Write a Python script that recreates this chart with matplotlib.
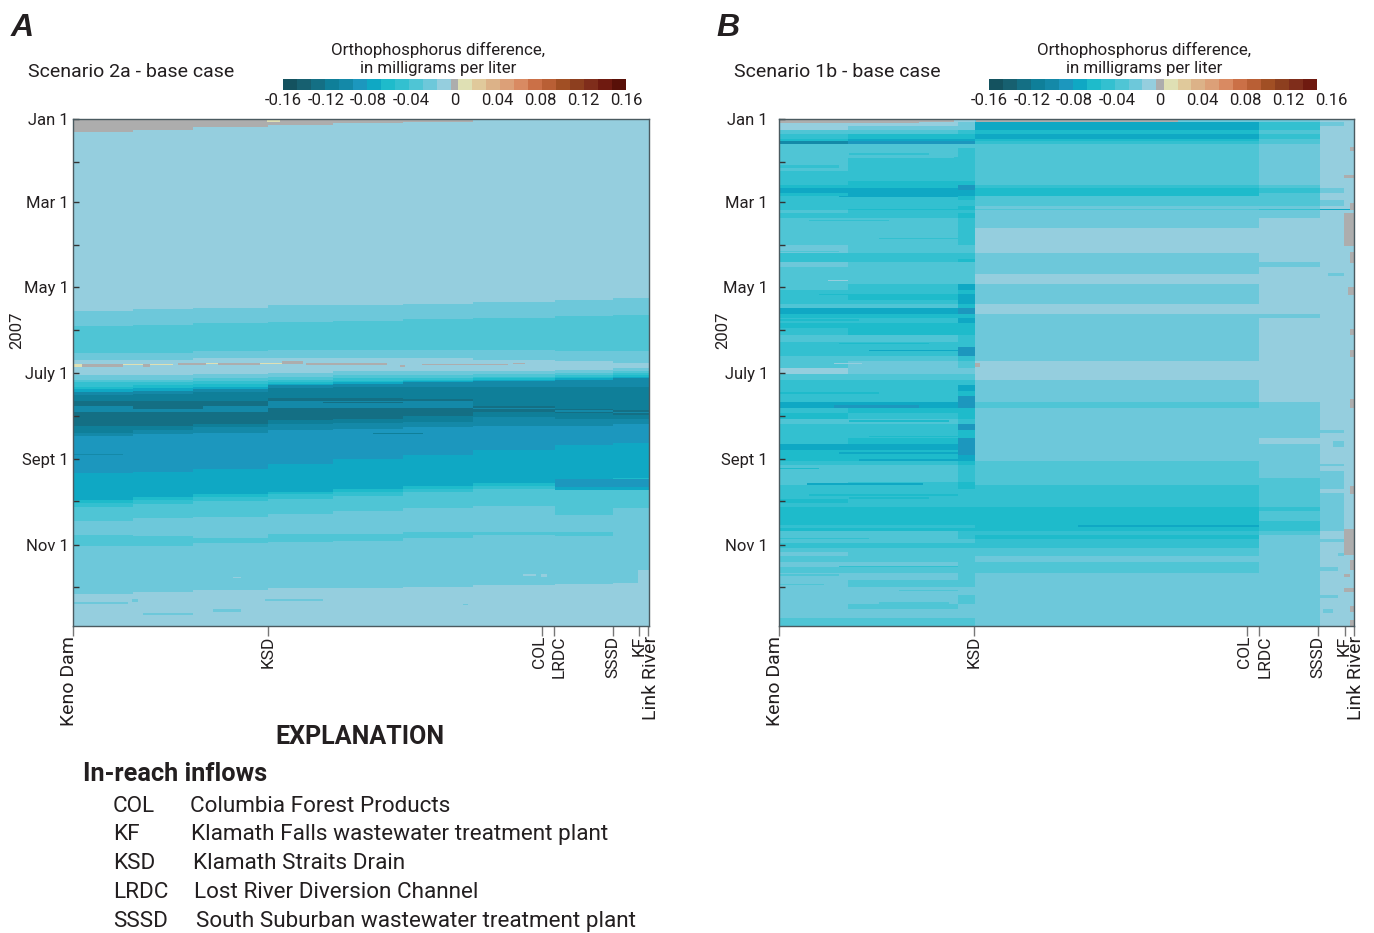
import matplotlib

matplotlib.use("Agg")
import matplotlib.pyplot as plt
import numpy as np
from matplotlib.colors import BoundaryNorm, ListedColormap

plt.rcParams["font.family"] = ["Roboto", "DejaVu Sans"]

# colour classes (mg/L), a is the palest blue, l the darkest
gr, ye = 0.0, 0.01
a, b, c, d, e, f, g, h, i, j, k, l = (-0.01, -0.023, -0.036, -0.049, -0.062, -0.075,
                                      -0.088, -0.101, -0.115, -0.128, -0.141, -0.154)

CB_COLORS = ["#14525f", "#176070", "#146f84", "#0f7f99", "#1489a8", "#1c97be", "#0fa8c4",
             "#1ebbcb", "#33c0d0", "#4fc5d5", "#6dc8da", "#95cede", "#adadad", "#dfe0b4",
             "#e0c99b", "#dcb288", "#dca078", "#d98a62", "#cb7047", "#b95f35", "#a14f24",
             "#8d3f1f", "#7f2d1b", "#6f1a10", "#581008"]
CB_BOUNDS = [-0.16, -0.1469, -0.1338, -0.1207, -0.1076, -0.0945, -0.0814, -0.0683, -0.0552,
             -0.0421, -0.029, -0.0164, -0.0033, 0.0033, 0.0164, 0.029, 0.0421, 0.0552,
             0.0683, 0.0814, 0.0945, 0.1076, 0.1207, 0.1338, 0.1469, 0.16]
CB_TICKS = [-0.16, -0.12, -0.08, -0.04, 0, 0.04, 0.08, 0.12, 0.16]
CB_LABELS = ["-0.16", "-0.12", "-0.08", "-0.04", "0", "0.04", "0.08", "0.12", "0.16"]

MONTH_DAYS = [0, 59, 120, 181, 243, 304]
MONTH_LABELS = ["Jan 1", "Mar 1", "May 1", "July 1", "Sept 1", "Nov 1"]
MINOR_DAYS = [31, 90, 151, 212, 273, 334]
N_DAYS = 362
N_SEG = 576

SITES = ["Keno Dam", "KSD", "COL", "LRDC", "SSSD", "KF", "Link River"]
SITE_POS = [0, 195.5, 469, 481, 540, 566.5, 575.5]

# panel A: band colours from top to bottom, and where each ends (day) in each river section
A_SECTIONS = [0, 60, 120, 195, 260, 330, 400, 482, 540, 576]
A_BAND_VALUES = [gr, a, b, c, b, a, b, c, d, e, f, h, i, j, h, j, i, h, g, f, e, d, c, b, c, b, a]
A_BAND_ENDS = [
    [9, 8, 6, 4, 3, 2, 1, 0.5, 0],
    [137, 136, 135, 133, 133, 132, 131, 129, 128],
    [148, 147, 146, 145, 144, 143, 142, 141, 140],
    [167, 167, 166, 165, 165, 165, 165, 166, 166],
    [172, 172, 171, 171, 171, 171, 172, 173, 174],
    [183, 183, 182, 181, 180, 180, 180, 179, 178],
    [186, 186, 185, 184, 183, 183, 182, 181, 180],
    [188, 188, 187, 186, 185, 185, 184, 183, 181],
    [191, 190, 189, 188, 187, 186, 185, 184, 183],
    [193, 192, 191, 189, 188, 187, 186, 185, 184],
    [195, 194, 193, 190, 189, 188, 187, 186, 185],
    [197, 196, 195, 192, 191, 191, 191, 191, 191],
    [201, 201, 201, 199, 199, 200, 205, 207, 208],
    [205, 205, 205, 201, 201, 201, 206, 208, 209],
    [209, 209, 209, 206, 206, 206, 207, 209, 210],
    [219, 219, 218, 215, 214, 212, 209, 210, 211],
    [224, 222, 220, 218, 217, 216, 213, 214, 214],
    [226, 225, 224, 222, 221, 220, 219, 219, 218],
    [253, 252, 250, 246, 243, 240, 236, 233, 231],
    [272, 270, 268, 266, 264, 262, 260, 258, 256],
    [274, 272, 270, 268, 266, 264, 262, 261, 261],
    [277, 275, 273, 271, 269, 266, 264, 263, 263],
    [287, 285, 284, 282, 280, 278, 276, 283, 278],
    [297, 298, 299, 296, 296, 295, 295, 295, 293],
    [305, 305, 303, 302, 301, 299, 297, 298, 293],
    [339, 338, 336, 335, 335, 334, 333, 332, 331],
    [362, 362, 362, 362, 362, 362, 362, 362, 362],
]
# panel A streaks: first day, last day, first segment, last segment, value
A_STREAKS = [
    (1, 2, 194, 207, ye), (175, 177, 0, 9, ye), (175, 177, 9, 50, gr), (175, 176, 50, 70, ye),
    (175, 177, 70, 77, gr), (175, 176, 77, 100, ye), (174, 176, 105, 133, gr),
    (174, 175, 133, 145, ye), (174, 176, 145, 187, gr), (174, 175, 187, 209, ye),
    (173, 175, 209, 230, gr), (174, 176, 233, 314, gr), (176, 177, 327, 332, gr),
    (175, 176, 349, 435, gr), (174, 175, 440, 452, gr),
    (205, 207, 60, 130, j), (214, 216, 20, 120, j), (218, 219, 0, 70, j),
    (212, 214, 195, 270, j), (206, 208, 300, 380, j), (202, 203, 250, 330, j),
    (224, 225, 300, 350, i), (239, 240, 0, 50, h), (260, 261, 482, 514, h),
    (257, 263, 482, 576, g), (263, 265, 482, 576, f),
    (270, 272, 460, 482, c), (322, 331, 565, 576, a),
    (345, 346, 0, 55, b), (343, 345, 59, 65, b), (353, 354, 70, 120, b), (350, 352, 140, 168, b),
    (343, 344, 192, 250, b), (346, 347, 390, 395, b), (327, 328, 160, 168, a),
    (325, 326, 450, 463, a), (325, 327, 468, 474, a),
]

# panel B: one row per run of days, values in each river section
B_SECTIONS = [0, 69, 179, 196, 481, 542, 566, 576]
B_ROW_ENDS = [2, 5, 8, 11, 14, 16, 18, 21, 28, 37, 41, 44, 47, 49, 51, 53, 55, 58, 62, 64, 65, 67,
              71, 78, 90, 96, 100, 102, 106, 111, 118, 122, 125, 129, 132, 135, 139, 142, 146,
              149, 154, 159, 163, 166, 169, 173, 178, 182, 186, 190, 194, 198, 202, 206, 210,
              214, 218, 222, 228, 232, 236, 240, 244, 247, 251, 256, 259, 261, 264, 267, 271,
              274, 277, 280, 287, 290, 292, 294, 297, 300, 303, 306, 309, 312, 316, 320, 324,
              329, 334, 340, 346, 350, 356, 362]
B_ROW_VALUES = [
    [a, a, a, b, b, a, a], [a, a, b, f, d, b, a], [a, b, b, f, d, a, a], [c, c, d, e, c, a, a],
    [d, e, e, f, d, a, a], [e, f, f, e, c, a, a], [h, g, g, d, c, a, a], [c, c, c, c, b, a, a],
    [c, c, d, c, b, a, a], [c, d, d, c, b, a, a], [d, d, d, c, b, a, a], [d, d, d, c, b, a, a],
    [d, e, e, c, b, a, a], [e, e, g, d, c, a, a], [f, f, g, e, d, b, a], [f, f, f, e, d, b, a],
    [e, f, f, e, c, a, a], [d, d, e, c, c, a, a], [d, d, d, c, c, b, a], [d, d, e, b, b, a, a],
    [d, e, e, c, d, f, f], [c, d, d, b, b, a, a], [d, d, e, b, b, a, a], [c, c, d, b, a, a, a],
    [c, c, d, a, a, a, a], [b, c, c, a, a, a, a], [d, d, d, b, a, a, a], [d, d, e, b, a, a, a],
    [b, c, c, b, b, a, a], [c, c, c, b, a, a, a], [c, c, c, a, a, a, a], [c, d, f, b, a, a, a],
    [d, d, e, b, a, a, a], [d, e, f, b, a, a, a], [d, d, f, b, a, a, a], [c, c, e, a, a, a, a],
    [f, f, g, a, a, a, a], [e, e, e, b, b, a, a], [d, d, f, b, a, a, a], [e, e, e, b, a, a, a],
    [d, e, e, b, a, a, a], [c, c, d, b, a, a, a], [d, d, d, b, a, a, a], [d, d, g, b, a, a, a],
    [d, d, g, b, a, a, a], [c, c, d, b, a, a, a], [c, b, c, a, a, a, a], [a, b, b, a, a, a, a],
    [c, c, c, a, a, a, a], [d, d, d, b, a, a, a], [d, d, f, b, a, a, a], [d, d, e, b, a, a, a],
    [d, d, g, b, a, a, a], [f, f, g, c, b, a, a], [d, e, e, b, b, a, a], [e, d, e, b, b, a, a],
    [c, c, d, b, b, a, a], [d, d, g, b, b, a, a], [d, d, e, b, b, a, a], [d, e, g, b, a, a, a],
    [f, f, g, b, b, a, a], [e, e, g, b, b, a, a], [e, e, f, b, b, a, a], [d, d, e, c, b, a, a],
    [c, c, d, c, b, a, a], [c, c, d, c, b, b, a], [c, c, d, c, c, b, a], [c, d, e, c, c, b, a],
    [d, d, e, d, c, b, a], [d, d, d, d, c, a, a], [d, d, d, d, c, b, a], [e, d, d, d, c, b, a],
    [d, d, d, d, c, b, a], [e, e, e, e, d, b, a], [e, e, e, e, c, b, a], [e, e, e, e, d, b, a],
    [d, d, d, e, d, b, a], [e, e, e, e, d, b, a], [c, c, d, d, c, a, a], [c, c, d, e, b, a, a],
    [c, c, c, d, b, a, a], [d, d, d, d, b, a, a], [c, c, c, c, b, a, a], [b, c, c, c, b, a, a],
    [c, c, c, b, b, a, a], [b, b, c, c, b, a, a], [c, c, c, c, b, a, a], [b, b, c, b, b, a, a],
    [b, c, c, b, b, a, a], [b, b, b, b, b, a, a], [b, b, c, b, b, a, a], [b, c, b, b, b, a, a],
    [b, b, b, b, b, a, a], [c, c, c, b, b, a, a],
]
B_STREAKS = [
    (0, 3, 0, 140, gr), (0, 2, 140, 175, gr), (0, 2, 197, 400, gr), (0, 1, 400, 460, gr),
    (174, 177, 196, 201, gr),
    (67, 91, 566, 576, gr), (293, 311, 566, 576, gr), (20, 23, 572, 576, gr),
    (40, 42, 566, 576, gr), (60, 65, 572, 576, gr), (84, 88, 566, 572, gr),
    (95, 103, 572, 576, gr), (120, 126, 570, 576, gr), (150, 154, 572, 576, gr),
    (165, 170, 572, 576, gr), (200, 206, 572, 576, gr), (262, 268, 572, 576, gr),
    (315, 322, 572, 576, gr), (325, 327, 566, 572, gr), (335, 338, 566, 576, gr),
    (348, 352, 572, 576, gr), (358, 362, 572, 576, gr),
    (174, 175, 55, 83, a), (115, 116, 49, 69, a), (260, 261, 28, 144, f),
    (290, 291, 300, 481, f), (27, 29, 175, 190, d),
    (310, 312, 560, 566, b), (340, 342, 542, 560, b),
    (222, 224, 542, 566, b), (230, 234, 555, 566, b), (246, 248, 542, 566, b),
    (252, 255, 542, 566, b), (284, 286, 542, 560, b), (320, 323, 542, 560, b),
    (350, 353, 545, 555, b), (300, 302, 542, 566, b), (110, 112, 550, 566, b),
    # staggered streaks on the left reach
    (24, 26, 70, 150, d), (33, 35, 0, 60, d), (47, 48, 0, 70, e), (55, 56, 60, 179, f),
    (72, 73, 30, 110, d), (85, 86, 100, 179, d), (94, 95, 0, 60, c), (107, 108, 70, 179, c),
    (125, 126, 40, 130, e), (143, 144, 0, 80, e), (150, 151, 70, 179, e), (160, 161, 60, 150, e),
    (165, 166, 90, 179, f), (187, 188, 50, 130, d), (195, 196, 0, 100, e), (200, 201, 80, 170, d),
    (204, 206, 55, 140, g), (215, 216, 70, 170, e), (226, 227, 90, 179, e), (234, 235, 0, 80, f),
    (238, 239, 60, 179, f), (243, 244, 80, 179, f), (249, 250, 0, 40, e), (268, 269, 30, 179, e),
    (270, 271, 70, 150, e), (299, 300, 0, 90, d), (303, 304, 40, 179, d), (319, 320, 60, 179, d),
    (325, 326, 0, 60, c), (332, 333, 0, 45, c), (336, 337, 120, 179, c), (345, 346, 100, 170, c),
]


def band_grid(sections, band_ends, band_values, streaks):
    grid = np.zeros((N_DAYS, N_SEG))
    for s in range(len(sections) - 1):
        start = 0
        for ends, val in zip(band_ends, band_values):
            stop = int(round(ends[s]))
            grid[start:stop, sections[s]:sections[s + 1]] = val
            start = max(start, stop)
    return add_streaks(grid, streaks)


def row_grid(sections, row_ends, row_values, streaks):
    grid = np.zeros((N_DAYS, N_SEG))
    start = 0
    for stop, vals in zip(row_ends, row_values):
        for s, val in enumerate(vals):
            grid[start:stop, sections[s]:sections[s + 1]] = val
        start = stop
    return add_streaks(grid, streaks)


def add_streaks(grid, streaks):
    for d0, d1, x0, x1, val in streaks:
        grid[d0:d1, x0:x1] = val
    return grid


def px_axes(fig, x0, y0, x1, y1):
    # reference pixel box to figure fractions
    return fig.add_axes([x0 / 1374, 1 - y1 / 933, (x1 - x0) / 1374, (y1 - y0) / 933])


def draw_panel(fig, box, grid, letter, title, origin, ypad, cbar_box, cbar_max):
    cmap = ListedColormap(CB_COLORS)
    norm = BoundaryNorm(CB_BOUNDS, cmap.N)
    ax = px_axes(fig, *box)
    mesh = ax.pcolormesh(np.arange(N_SEG + 1), np.arange(N_DAYS + 1), grid, cmap=cmap, norm=norm,
                         rasterized=True)
    ax.set_xlim(0, N_SEG)
    ax.set_ylim(N_DAYS, 0)
    for sp in ax.spines.values():
        sp.set_color("#4a5a60")
        sp.set_linewidth(1.0)
    ax.set_yticks(MONTH_DAYS, MONTH_LABELS, fontsize=12, color="#231f20")
    ax.set_yticks(MINOR_DAYS, minor=True)
    ax.tick_params(axis="y", which="both", direction="in", length=4, width=1, color="#333333", pad=ypad)
    ax.set_xticks(SITE_POS, [""] * len(SITES))
    ax.tick_params(axis="x", length=7, width=1, color="#777777")
    for name, pos, dx in zip(SITES, SITE_POS, [-3, 0, -2, 4, 0, 0, 2]):
        ax.annotate(name, (pos, 0), xycoords=("data", "axes fraction"), xytext=(dx, -7),
                    textcoords="offset points", rotation=90, ha="center", va="top",
                    fontsize=14 if name in ("Keno Dam", "Link River") else 12.5, color="#231f20")

    fig.text((origin - 51) / 1374, 1 - 28 / 933, letter, fontsize=23, fontweight="bold",
             style="italic", ha="center", va="center", color="#231f20",
             family=["Liberation Sans", "DejaVu Sans"])
    fig.text((origin - 45) / 1374, 1 - 72 / 933, title, fontsize=14, ha="left", va="center", color="#231f20")
    fig.text((origin - 56) / 1374, 1 - 330 / 933, "2007", fontsize=12, rotation=90, ha="center", va="center", color="#231f20")

    cax = px_axes(fig, *cbar_box)
    cbar = fig.colorbar(mesh, cax=cax, orientation="horizontal", spacing="proportional", drawedges=False)
    cbar.outline.set_visible(False)
    cbar.set_ticks([])
    cbar.minorticks_off()
    cax.tick_params(which="both", length=0)
    cax.set_xlim(-0.16, cbar_max)
    for v, lab in zip(CB_TICKS, CB_LABELS):
        cax.annotate(lab, (v, 0), xycoords=("data", "axes fraction"), xytext=(0, -2),
                     textcoords="offset points", ha="center", va="top", fontsize=12,
                     color="#231f20", annotation_clip=False)
    mid = cbar_box[0] + 155
    fig.text(mid / 1374, 1 - 49.5 / 933, "Orthophosphorus difference,", fontsize=12.2, ha="center", va="center", color="#231f20")
    fig.text(mid / 1374, 1 - 69 / 933, "in milligrams per liter", fontsize=12.2, ha="center", va="center", color="#231f20")
    return ax


fig = plt.figure(figsize=(13.74, 9.33), dpi=100)
grid_a = band_grid(A_SECTIONS, A_BAND_ENDS, A_BAND_VALUES, A_STREAKS)
grid_b = row_grid(B_SECTIONS, B_ROW_ENDS, B_ROW_VALUES, B_STREAKS)
draw_panel(fig, (73, 119, 649, 626), grid_a, "A", "Scenario 2a - base case", 73, 3, (283, 79, 626, 90), 0.16)
draw_panel(fig, (779, 119, 1354, 626), grid_b, "B", "Scenario 1b - base case", 779, 8, (989, 79, 1317, 90), 0.1469)

# explanation block
EXPL_CODES = ["COL", "KF", "KSD", "LRDC", "SSSD"]
EXPL_NAMES = ["Columbia Forest Products", "Klamath Falls wastewater treatment plant",
              "Klamath Straits Drain", "Lost River Diversion Channel",
              "South Suburban wastewater treatment plant"]
fig.text(360 / 1374, 1 - 737 / 933, "EXPLANATION", fontsize=18, fontweight="bold", ha="center", va="center", color="#231f20")
fig.text(83 / 1374, 1 - 774 / 933, "In-reach inflows", fontsize=18.2, fontweight="bold", ha="left", va="center", color="#231f20")
for n, (code, name, xname) in enumerate(zip(EXPL_CODES, EXPL_NAMES, [190, 191, 193, 194, 196])):
    y = 806 + n * 28.8
    fig.text(113 / 1374, 1 - y / 933, code, fontsize=16.2, ha="left", va="center", color="#231f20")
    fig.text(xname / 1374, 1 - y / 933, name, fontsize=16.2, ha="left", va="center", color="#231f20")

fig.savefig("out.png", dpi=100)
